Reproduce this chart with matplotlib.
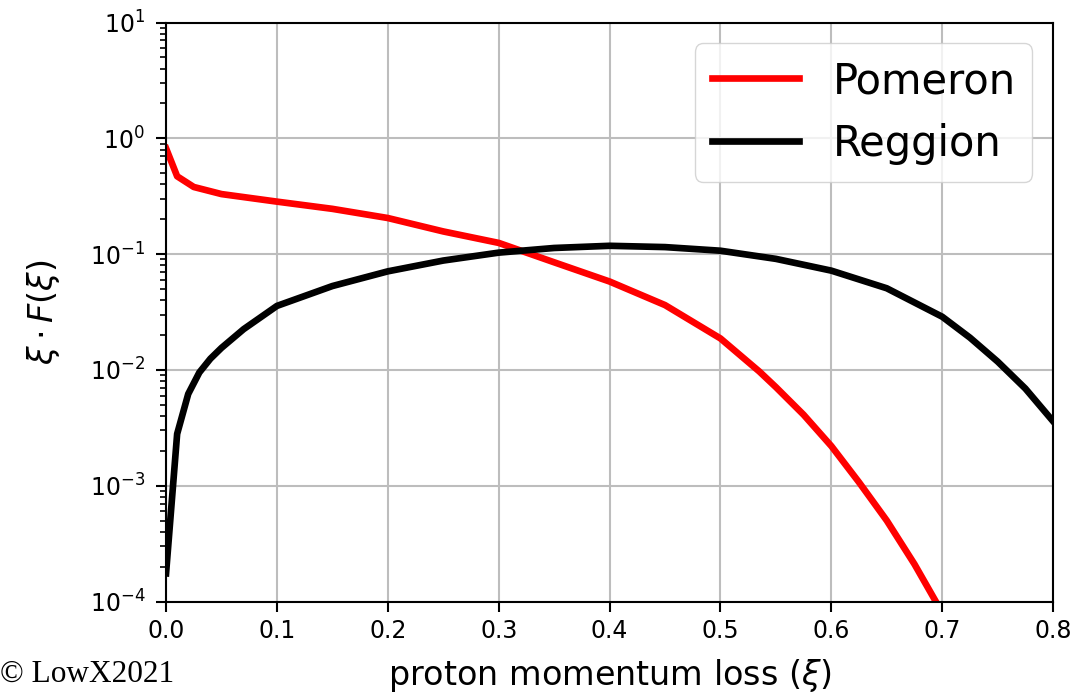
import matplotlib
matplotlib.use('Agg')
from matplotlib import pyplot as plt
import numpy as np

# values
xi_pom = [0.0, 0.01, 0.025, 0.05, 0.1, 0.15, 0.2, 0.25, 0.3, 0.35, 0.4,
          0.45, 0.5, 0.535, 0.55, 0.575, 0.6, 0.625, 0.65, 0.675, 0.7]
pomeron = [0.82, 0.47, 0.38, 0.33, 0.284, 0.246, 0.205, 0.157, 0.125, 0.085, 0.058,
           0.0363, 0.0187, 0.0097, 0.0071, 0.0041, 0.0022, 0.00107, 5.0e-4,
           2.1e-4, 8.0e-5]

xi_reg = [0.0, 0.01, 0.02, 0.03, 0.04, 0.05, 0.07, 0.1, 0.15, 0.2, 0.25, 0.3,
          0.35, 0.4, 0.45, 0.5, 0.55, 0.6, 0.65, 0.7, 0.725, 0.75, 0.775, 0.8]
reggion = [1.75e-4, 2.8e-3, 6.2e-3, 9.5e-3, 0.0125, 0.0155, 0.0225, 0.0357, 0.053,
           0.071, 0.088, 0.103, 0.113, 0.118, 0.115, 0.107, 0.091, 0.072, 0.0507,
           0.0288, 0.019, 0.0118, 0.0069, 0.0036]

fig = plt.figure(figsize=(10.86, 6.93), dpi=100)
ax = fig.add_axes([0.1529, 0.132, 0.8168, 0.8355])

ax.plot(xi_pom, pomeron, color='red', lw=4.8, label='Pomeron')
ax.plot(xi_reg, reggion, color='black', lw=4.8, label='Reggion')

ax.set_yscale('log')
ax.set_xlim(0, 0.8)
ax.set_ylim(1e-4, 10)
ax.set_xticks(np.arange(0, 0.81, 0.1))
ax.grid(True, color='#bdbdbd', lw=1.5)

ax.tick_params(which='major', labelsize=17, length=7, width=1.5)
ax.tick_params(axis='x', pad=5.5)
ax.tick_params(axis='y', pad=8)
ax.tick_params(which='minor', length=4, width=1.2)
for s in ax.spines.values():
    s.set_linewidth(1.5)

ax.set_xlabel(r'proton momentum loss ($\xi$)', fontsize=24, labelpad=10)
ax.set_ylabel(r'$\xi \cdot F(\xi)$', fontsize=24)
ax.yaxis.set_label_coords(-0.1176, 0.5)

ax.legend(loc='upper right', fontsize=30, handlelength=2.1)

fig.text(0.0, 0.0163, '© LowX2021', fontsize=22.5, family='Liberation Serif')

fig.savefig('out.png', dpi=100)
